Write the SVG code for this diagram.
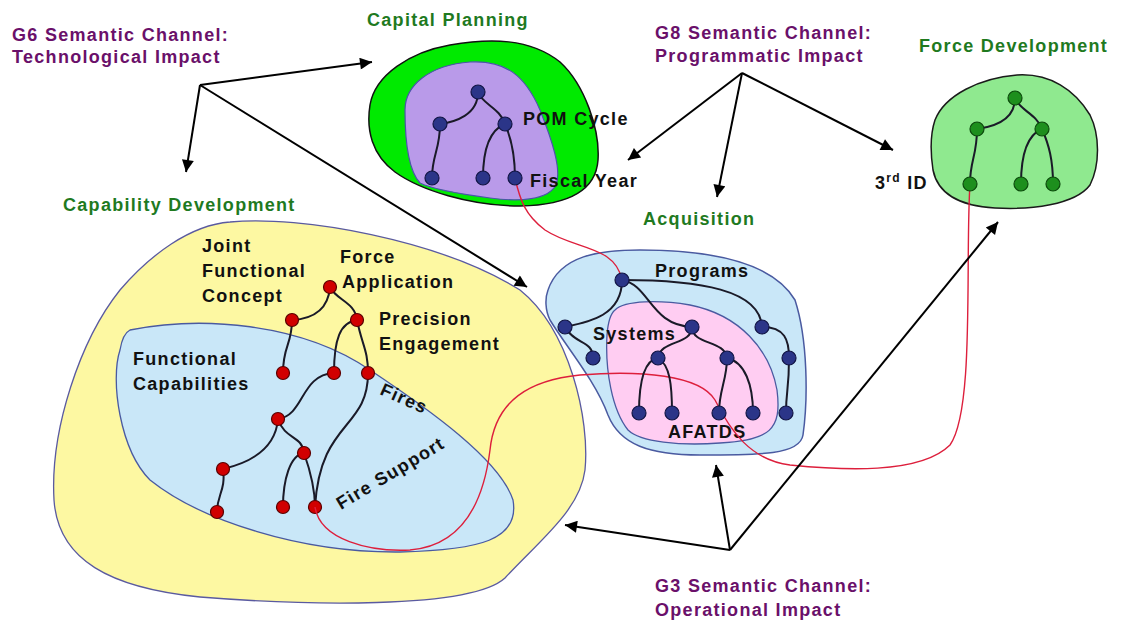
<svg xmlns="http://www.w3.org/2000/svg" width="1122" height="623" viewBox="0 0 1122 623">
  <style>
    text { font-family: "Liberation Sans", Arial, sans-serif; font-weight: bold; font-size: 18px; letter-spacing: 1.3px; }
    .chan { fill: #6a106a; }
    .title { fill: #1f7a1f; }
    .lbl { fill: #111; }
    .edge { fill: none; stroke: #1a1a28; stroke-width: 2; }
    .arrow { fill: none; stroke: #000; stroke-width: 2; marker-end: url(#head); }
    .link { fill: none; stroke: #dd1f3c; stroke-width: 1.4; }
    .nb { fill: #2b3588; stroke: #121545; stroke-width: 1.2; }
    .nr { fill: #d10000; stroke: #5a0000; stroke-width: 1.2; }
    .ng { fill: #1d8f1d; stroke: #0c4a0c; stroke-width: 1.2; }
  </style>
  <defs>
    <marker id="head" viewBox="0 0 10 10" refX="10" refY="5" markerWidth="7" markerHeight="6" orient="auto" markerUnits="strokeWidth">
      <path d="M0,0 L10,5 L0,10 Z" fill="#000"/>
    </marker>
  </defs>
  <rect width="1122" height="623" fill="#fff"/>

  <!-- Capability Development: yellow area with functional capabilities inside -->
  <g id="capability-development">
    <path d="M230,222 C300,215 440,240 520,290 C570,330 590,420 585,470 C580,510 540,540 505,578 C470,610 300,605 200,597 C110,588 58,560 54,500 C50,430 80,340 120,290 C150,255 190,225 230,222 Z" fill="#fdf8a2" stroke="#5a5aa0" stroke-width="1.3"/>
    <path d="M130,330 C200,316 300,322 370,370 C430,410 500,460 513,500 C520,540 480,550 400,552 C300,553 200,520 150,480 C120,450 110,380 120,350 C122,338 126,332 130,330 Z" fill="#c9e7f8" stroke="#4a5aa0" stroke-width="1.3"/>
    <text class="title" x="63" y="211">Capability Development</text>
    <text class="lbl" x="202" y="252">Joint</text>
    <text class="lbl" x="202" y="277">Functional</text>
    <text class="lbl" x="202" y="302">Concept</text>
    <text class="lbl" x="340" y="263">Force</text>
    <text class="lbl" x="342" y="288">Application</text>
    <text class="lbl" x="379" y="325">Precision</text>
    <text class="lbl" x="379" y="350">Engagement</text>
    <text class="lbl" x="133" y="365">Functional</text>
    <text class="lbl" x="133" y="390">Capabilities</text>
    <text class="lbl" x="379" y="394" transform="rotate(24 379 394)" fill="#222">Fires</text>
    <text class="lbl" x="341" y="510" transform="rotate(-31 341 510)" fill="#222">Fire Support</text>
    <g id="capability-tree">
      <path class="edge" d="M330,287 C328,312 310,319 292,320"/>
      <path class="edge" d="M330,287 C336,300 355,302 357,320"/>
      <path class="edge" d="M292,320 C292,345 283,345 283,373"/>
      <path class="edge" d="M357,320 C340,322 334,340 334,373"/>
      <path class="edge" d="M357,320 C362,345 368,350 368,373"/>
      <path class="edge" d="M334,373 C300,375 305,415 278,419"/>
      <path class="edge" d="M278,419 C275,455 240,465 223,469"/>
      <path class="edge" d="M278,419 C285,440 302,435 304,453"/>
      <path class="edge" d="M223,469 C226,490 217,495 217,512"/>
      <path class="edge" d="M304,453 C290,455 283,480 283,507"/>
      <path class="edge" d="M304,453 C310,470 315,490 315,507"/>
      <path class="edge" d="M368,373 C368,430 320,420 315,507"/>
      <circle class="nr" cx="330" cy="287" r="6.5"/>
      <circle class="nr" cx="292" cy="320" r="6.5"/>
      <circle class="nr" cx="357" cy="320" r="6.5"/>
      <circle class="nr" cx="283" cy="373" r="6.5"/>
      <circle class="nr" cx="334" cy="373" r="6.5"/>
      <circle class="nr" cx="368" cy="373" r="6.5"/>
      <circle class="nr" cx="278" cy="419" r="6.5"/>
      <circle class="nr" cx="304" cy="453" r="6.5"/>
      <circle class="nr" cx="223" cy="469" r="6.5"/>
      <circle class="nr" cx="217" cy="512" r="6.5"/>
      <circle class="nr" cx="283" cy="507" r="6.5"/>
      <circle class="nr" cx="315" cy="507" r="6.5"/>
    </g>
  </g>

  <!-- Capital Planning -->
  <g id="capital-planning">
    <path d="M370,105 C375,75 410,52 450,45 C490,38 530,38 560,62 C585,85 600,130 598,160 C596,190 570,205 520,206 C470,206 420,190 395,172 C372,155 366,130 370,105 Z" fill="#00ea00" stroke="#111" stroke-width="1.5"/>
    <path d="M405,110 C405,85 430,65 470,62 C505,60 525,75 540,110 C552,140 562,170 556,185 C548,200 520,202 490,198 C460,194 430,188 420,183 C408,170 405,140 405,110 Z" fill="#b99ae9" stroke="#4a55a8" stroke-width="1.2"/>
    <text class="title" x="367" y="26">Capital Planning</text>
    <text class="lbl" x="523" y="125">POM Cycle</text>
    <text class="lbl" x="530" y="187">Fiscal Year</text>
  </g>

  <!-- Force Development -->
  <g id="force-development">
    <path d="M935,120 C945,95 980,78 1017,75 C1050,73 1075,90 1090,115 C1100,135 1100,165 1090,185 C1075,205 1030,210 995,208 C960,206 938,195 933,170 C930,150 930,135 935,120 Z" fill="#8fe98f" stroke="#1a1a1a" stroke-width="1.5"/>
    <text class="title" x="919" y="52">Force Development</text>
    <text class="lbl" x="875" y="189">3<tspan dy="-7" font-size="12">rd</tspan><tspan dy="7"> ID</tspan></text>
  </g>

  <!-- Acquisition -->
  <g id="acquisition">
    <path d="M548,290 C560,255 600,250 640,250 C700,250 770,258 795,300 C808,340 808,400 803,435 C800,455 760,455 700,455 C650,455 620,445 608,415 C595,380 565,345 550,320 C545,310 545,298 548,290 Z" fill="#c9e7f8" stroke="#4a5aa0" stroke-width="1.5"/>
    <path d="M615,310 C625,300 660,300 690,305 C740,315 770,350 777,390 C782,430 770,440 720,443 C680,446 640,442 628,430 C612,410 605,370 607,335 C608,322 610,314 615,310 Z" fill="#ffcdf2" stroke="#4a5aa0" stroke-width="1.3"/>
    <text class="title" x="643" y="225">Acquisition</text>
    <text class="lbl" x="655" y="277">Programs</text>
    <text class="lbl" x="593" y="340">Systems</text>
    <text class="lbl" x="668" y="438">AFATDS</text>
  </g>

  <!-- Cross-domain links -->
  <g id="links">
    <path class="link" d="M515,178 C520,200 525,215 545,230 C575,250 615,245 622,280"/>
    <path class="link" d="M315,507 C320,540 370,552 410,550 C470,545 485,490 490,450 C495,400 530,380 580,375 C640,370 700,375 715,400 C730,430 750,460 790,465 C840,470 920,475 950,445 C975,410 965,260 970,184"/>
  </g>

  <!-- Trees drawn over the links -->
  <g id="capital-tree">
    <path class="edge" d="M478,92 C478,115 455,122 440,124"/>
    <path class="edge" d="M478,92 C482,104 500,108 505,124"/>
    <path class="edge" d="M440,124 C440,150 432,155 432,178"/>
    <path class="edge" d="M505,124 C490,130 483,150 483,178"/>
    <path class="edge" d="M505,124 C512,140 515,155 515,178"/>
    <circle class="nb" cx="478" cy="92" r="7"/>
    <circle class="nb" cx="440" cy="124" r="7"/>
    <circle class="nb" cx="505" cy="124" r="7"/>
    <circle class="nb" cx="432" cy="178" r="7"/>
    <circle class="nb" cx="483" cy="178" r="7"/>
    <circle class="nb" cx="515" cy="178" r="7"/>
  </g>
  <g id="force-tree">
    <path class="edge" d="M1015,98 C1015,121 992,127 977,129"/>
    <path class="edge" d="M1015,98 C1019,110 1037,114 1042,129"/>
    <path class="edge" d="M977,129 C977,156 970,160 970,184"/>
    <path class="edge" d="M1042,129 C1027,135 1021,155 1021,184"/>
    <path class="edge" d="M1042,129 C1049,145 1053,160 1053,184"/>
    <circle class="ng" cx="1015" cy="98" r="7"/>
    <circle class="ng" cx="977" cy="129" r="7"/>
    <circle class="ng" cx="1042" cy="129" r="7"/>
    <circle class="ng" cx="970" cy="184" r="7"/>
    <circle class="ng" cx="1021" cy="184" r="7"/>
    <circle class="ng" cx="1053" cy="184" r="7"/>
  </g>
  <g id="acquisition-tree">
    <path class="edge" d="M622,280 C622,315 590,322 565,327"/>
    <path class="edge" d="M565,327 C575,345 593,340 593,358"/>
    <path class="edge" d="M622,280 C650,285 650,325 692,327"/>
    <path class="edge" d="M622,280 C700,280 760,290 762,327"/>
    <path class="edge" d="M762,327 C785,327 789,340 789,358"/>
    <path class="edge" d="M789,358 C789,390 786,390 786,413"/>
    <path class="edge" d="M692,327 C692,345 660,340 658,358"/>
    <path class="edge" d="M692,327 C692,345 725,340 727,358"/>
    <path class="edge" d="M658,358 C645,360 639,380 639,413"/>
    <path class="edge" d="M658,358 C670,365 672,385 672,413"/>
    <path class="edge" d="M727,358 C727,380 719,390 719,413"/>
    <path class="edge" d="M727,358 C745,362 753,385 753,413"/>
    <circle class="nb" cx="622" cy="280" r="7"/>
    <circle class="nb" cx="565" cy="327" r="7"/>
    <circle class="nb" cx="593" cy="358" r="7"/>
    <circle class="nb" cx="692" cy="327" r="7"/>
    <circle class="nb" cx="762" cy="327" r="7"/>
    <circle class="nb" cx="789" cy="358" r="7"/>
    <circle class="nb" cx="658" cy="358" r="7"/>
    <circle class="nb" cx="727" cy="358" r="7"/>
    <circle class="nb" cx="639" cy="413" r="7"/>
    <circle class="nb" cx="672" cy="413" r="7"/>
    <circle class="nb" cx="719" cy="413" r="7"/>
    <circle class="nb" cx="753" cy="413" r="7"/>
    <circle class="nb" cx="786" cy="413" r="7"/>
  </g>

  <!-- Semantic channels -->
  <g id="g6-channel">
    <text class="chan" x="12" y="41">G6 Semantic Channel:</text>
    <text class="chan" x="12" y="63">Technological Impact</text>
  </g>
  <g id="g8-channel">
    <text class="chan" x="655" y="39">G8 Semantic Channel:</text>
    <text class="chan" x="655" y="62">Programmatic Impact</text>
  </g>
  <g id="g3-channel">
    <text class="chan" x="655" y="592">G3 Semantic Channel:</text>
    <text class="chan" x="655" y="616">Operational Impact</text>
  </g>

  <!-- Channel arrows -->
  <g id="connectors">
    <path class="arrow" d="M200,85 L372,62"/>
    <path class="arrow" d="M200,85 L186,172"/>
    <path class="arrow" d="M200,85 L527,287"/>
    <path class="arrow" d="M742,73 L628,160"/>
    <path class="arrow" d="M742,73 L717,197"/>
    <path class="arrow" d="M742,73 L893,150"/>
    <path class="arrow" d="M730,550 L565,525"/>
    <path class="arrow" d="M730,550 L716,465"/>
    <path class="arrow" d="M730,550 L998,222"/>
  </g>
</svg>
